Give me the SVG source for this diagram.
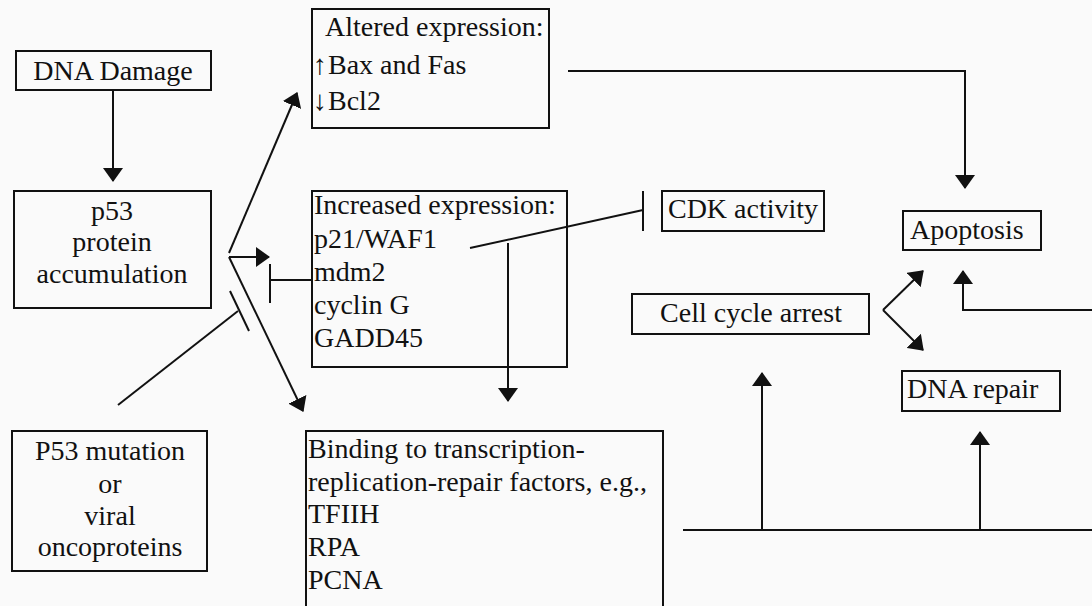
<svg xmlns="http://www.w3.org/2000/svg" width="1092" height="606" viewBox="0 0 1092 606">
<style>
.box{fill:none;stroke:#111;stroke-width:2}
.t{font-family:"Liberation Serif","Times New Roman",serif;font-size:28px;fill:#111}
.c{text-anchor:middle}
.ln{fill:none;stroke:#111;stroke-width:2}
.ar{fill:none;stroke:#111;stroke-width:2;marker-end:url(#arr)}
</style>
<defs>
<marker id="arr" viewBox="0 0 14 20" refX="13" refY="10" markerWidth="14" markerHeight="20" markerUnits="userSpaceOnUse" orient="auto">
<path d="M0,0 L14,10 L0,20 z" fill="#111"/>
</marker>
</defs>
<rect width="1092" height="606" fill="#fafafa"/>
<g id="dna-damage">
<rect class="box" x="16" y="51" width="195" height="39"/>
<text class="t c" x="113" y="80">DNA Damage</text>
</g>
<g id="p53-accumulation">
<rect class="box" x="14" y="191" width="197" height="117"/>
<text class="t c" x="112" y="220">p53</text>
<text class="t c" x="112" y="251">protein</text>
<text class="t c" x="112" y="283">accumulation</text>
</g>
<g id="altered-expression">
<rect class="box" x="312" y="9" width="237" height="119"/>
<text class="t" x="325" y="36">Altered expression:</text>
<text class="t" y="74"><tspan x="313">↑</tspan><tspan x="328">Bax and Fas</tspan></text>
<text class="t" y="110"><tspan x="313">↓</tspan><tspan x="328">Bcl2</tspan></text>
</g>
<g id="increased-expression">
<rect class="box" x="312" y="191" width="255" height="176"/>
<text class="t" x="314" y="214">Increased expression:</text>
<text class="t" x="314" y="248">p21/WAF1</text>
<text class="t" x="314" y="281">mdm2</text>
<text class="t" x="314" y="314">cyclin G</text>
<text class="t" x="314" y="347">GADD45</text>
</g>
<g id="cdk-activity">
<rect class="box" x="662" y="191" width="162" height="40"/>
<text class="t c" x="743" y="218">CDK activity</text>
</g>
<g id="apoptosis">
<rect class="box" x="903" y="211" width="138" height="39"/>
<text class="t" x="910" y="239">Apoptosis</text>
</g>
<g id="cell-cycle-arrest">
<rect class="box" x="632" y="294" width="237" height="40"/>
<text class="t c" x="751" y="322">Cell cycle arrest</text>
</g>
<g id="dna-repair">
<rect class="box" x="902" y="371" width="158" height="40"/>
<text class="t" x="907" y="398">DNA repair</text>
</g>
<g id="p53-mutation">
<rect class="box" x="12" y="431" width="195" height="140"/>
<text class="t c" x="110" y="460">P53 mutation</text>
<text class="t c" x="110" y="493">or</text>
<text class="t c" x="110" y="525">viral</text>
<text class="t c" x="110" y="556">oncoproteins</text>
</g>
<g id="binding">
<rect class="box" x="306" y="431" width="357" height="190"/>
<text class="t" x="308" y="458">Binding to transcription-</text>
<text class="t" x="308" y="491">replication-repair factors, e.g.,</text>
<text class="t" x="308" y="523">TFIIH</text>
<text class="t" x="308" y="556">RPA</text>
<text class="t" x="308" y="589">PCNA</text>
</g>
<g id="connectors">
<line class="ar" x1="113" y1="90" x2="113" y2="181"/>
<line class="ar" x1="229" y1="253" x2="297" y2="93"/>
<line class="ar" x1="229" y1="257" x2="269" y2="257"/>
<line class="ar" x1="229" y1="257" x2="303" y2="411"/>
<line class="ln" x1="311" y1="280" x2="270" y2="280"/>
<line class="ln" x1="270" y1="264" x2="270" y2="303"/>
<line class="ln" x1="118" y1="405" x2="238" y2="311"/>
<line class="ln" x1="230" y1="291" x2="249" y2="331"/>
<line class="ln" x1="470" y1="248" x2="643" y2="210"/>
<line class="ln" x1="643" y1="191" x2="643" y2="231"/>
<line class="ar" x1="508" y1="243" x2="508" y2="401"/>
<polyline class="ar" points="568,71 965,71 965,188"/>
<polyline class="ar" points="1092,310 963,310 963,271"/>
<line class="ar" x1="883" y1="310" x2="923" y2="271"/>
<line class="ar" x1="883" y1="310" x2="923" y2="350"/>
<line class="ln" x1="683" y1="530" x2="1092" y2="530"/>
<line class="ar" x1="762" y1="530" x2="762" y2="373"/>
<line class="ar" x1="980" y1="530" x2="980" y2="432"/>
</g>
</svg>
